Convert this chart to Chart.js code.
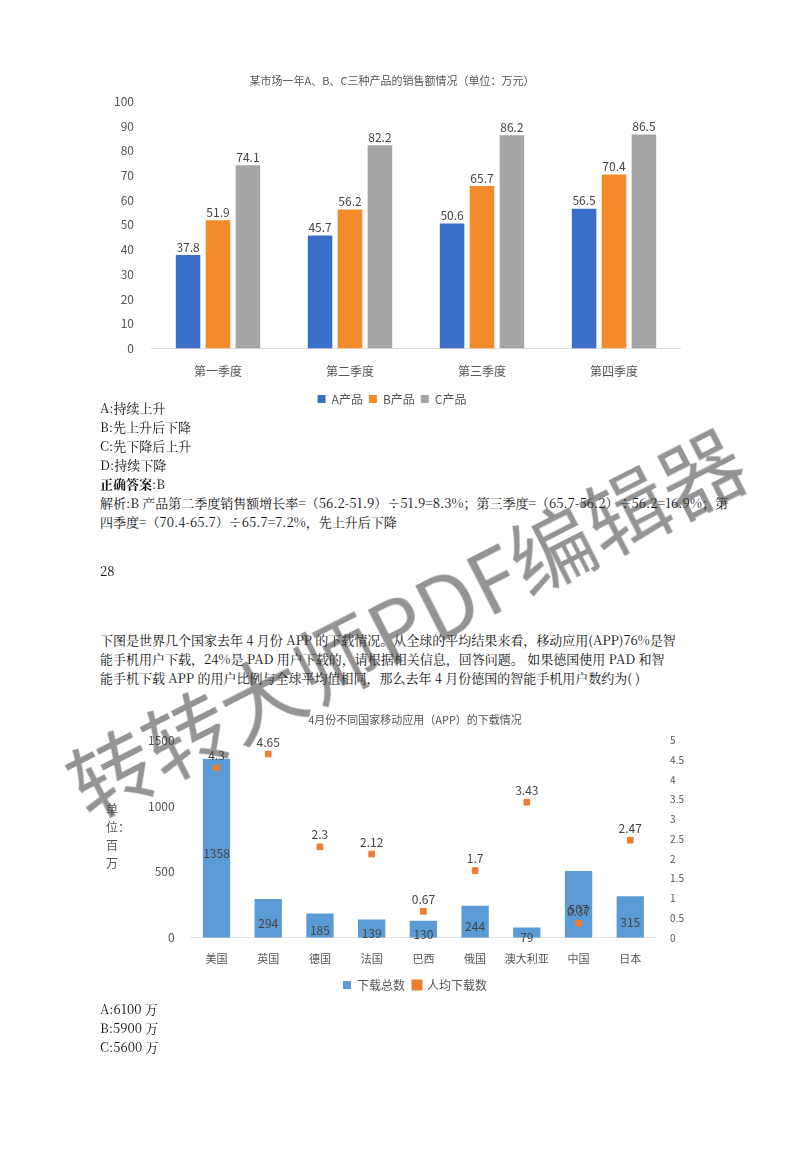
<!DOCTYPE html>
<html lang="zh">
<head>
<meta charset="UTF-8">
<title>图表</title>
<script src="https://cdn.jsdelivr.net/npm/chart.js"></script>
<style>
  body { margin: 0; width: 800px; height: 1159px; background: #fff; position: relative; overflow: hidden;
         font-family: "Noto Serif CJK SC", "Noto Sans CJK SC", serif; color: #111; }
  .t { position: absolute; left: 100px; font-size: 13px; line-height: 19px; margin: 0; white-space: nowrap; }
  .box { position: absolute; }
  .wm { position: absolute; left: 45px; top: 735px; font-size: 84px; color: rgba(60,60,60,0.55);
        transform: rotate(-27deg); transform-origin: left top; white-space: nowrap; pointer-events: none;
        font-family: "Noto Sans CJK SC", sans-serif; }
</style>
<script>
  const quarters = ["第一季度", "第二季度", "第三季度", "第四季度"];
  const productA = [37.8, 45.7, 50.6, 56.5];
  const productB = [51.9, 56.2, 65.7, 70.4];
  const productC = [74.1, 82.2, 86.2, 86.5];

  const countries = ["美国", "英国", "德国", "法国", "巴西", "俄国", "澳大利亚", "中国", "日本"];
  const totalDownloads = [1358, 294, 185, 139, 130, 244, 79, 507, 315];
  const perCapita = [4.3, 4.65, 2.3, 2.12, 0.67, 1.7, 3.43, 0.37, 2.47];

  const font = "'Noto Sans CJK SC', sans-serif";

  // draw value labels; mode per dataset: 'top' or 'center'
  const valueLabels = {
    id: 'valueLabels',
    afterDatasetsDraw(chart, args, opts) {
      const ctx = chart.ctx;
      ctx.save();
      ctx.font = opts.size + "px " + font;
      ctx.fillStyle = opts.color || '#444';
      ctx.textAlign = 'center';
      chart.data.datasets.forEach((ds, i) => {
        const meta = chart.getDatasetMeta(i);
        const mode = (opts.modes || [])[i] || 'top';
        meta.data.forEach((el, j) => {
          let y;
          if (mode === 'center') {
            y = (el.y + el.base) / 2 + 5;
          } else {
            y = el.y - (opts.offset || 8);
          }
          ctx.fillText(ds.data[j], el.x, y);
        });
      });
      ctx.restore();
    }
  };

  window.onload = function () {
    new Chart(document.getElementById('c1'), {
      type: 'bar',
      data: {
        labels: quarters,
        datasets: [
          { label: 'A产品', data: productA, backgroundColor: '#3a6fc9' },
          { label: 'B产品', data: productB, backgroundColor: '#f58a2b' },
          { label: 'C产品', data: productC, backgroundColor: '#a5a5a5' }
        ]
      },
      options: {
        responsive: false, animation: false,
        layout: { padding: { left: 4, right: 20, top: 0, bottom: 0 } },
        categoryPercentage: 0.68, barPercentage: 0.82,
        plugins: {
          title: { display: true, text: '某市场一年A、B、C三种产品的销售额情况（单位：万元）', color: '#555',
                   font: { family: font, size: 11, weight: 'normal' }, padding: { top: 4, bottom: 14 } },
          legend: { position: 'bottom', labels: { boxWidth: 8, boxHeight: 8, color: '#555', padding: 6,
                    font: { family: font, size: 12 } } },
          tooltip: { enabled: false },
          valueLabels: { size: 12, offset: 8, color: '#444' }
        },
        scales: {
          x: { grid: { display: false }, border: { color: '#ddd' },
               ticks: { color: '#555', font: { family: font, size: 12 }, padding: 8 } },
          y: { min: 0, max: 100, ticks: { stepSize: 10, color: '#555', font: { family: font, size: 12 }, padding: 10 },
               grid: { display: false }, border: { display: false } }
        }
      },
      plugins: [valueLabels]
    });

    new Chart(document.getElementById('c2'), {
      data: {
        labels: countries,
        datasets: [
          { type: 'bar', label: '下载总数', data: totalDownloads, backgroundColor: '#5b9bd5', yAxisID: 'y', order: 2 },
          { type: 'line', label: '人均下载数', data: perCapita, yAxisID: 'y1', showLine: false,
            pointStyle: 'rect', pointRadius: 4, backgroundColor: '#ed7d31', borderColor: '#ed7d31', order: 1 }
        ]
      },
      options: {
        responsive: false, animation: false,
        layout: { padding: { left: 40, right: 10, top: 0, bottom: 0 } },
        categoryPercentage: 0.8, barPercentage: 0.66,
        plugins: {
          title: { display: true, text: '4月份不同国家移动应用（APP）的下载情况', color: '#555',
                   font: { family: font, size: 11, weight: 'normal' }, padding: { top: 2, bottom: 14 } },
          legend: { position: 'bottom', labels: { boxWidth: 8, boxHeight: 8, color: '#555', padding: 8,
                    font: { family: font, size: 12 }, sort: (a, b) => a.datasetIndex - b.datasetIndex } },
          tooltip: { enabled: false },
          valueLabels: { size: 12, offset: 12, color: '#444', modes: ['center', 'top'] }
        },
        scales: {
          x: { grid: { display: false }, border: { color: '#e3e3e3' },
               ticks: { color: '#555', font: { family: font, size: 11 }, padding: 6 } },
          y: { position: 'left', min: 0, max: 1500,
               ticks: { stepSize: 500, color: '#555', font: { family: font, size: 12 }, padding: 8, callback: v => String(v) },
               grid: { display: false }, border: { display: false } },
          y1: { position: 'right', min: 0, max: 5,
                ticks: { stepSize: 0.5, color: '#555', font: { family: font, size: 10 }, padding: 6, callback: v => String(v) },
                grid: { display: false }, border: { display: false } }
        }
      },
      plugins: [valueLabels]
    });
  };
</script>
</head>
<body>
  <div class="box" style="left:100px; top:70px;"><canvas id="c1" width="600" height="345"></canvas></div>

  <p class="t" style="top:398px;">A:持续上升</p>
  <p class="t" style="top:417px;">B:先上升后下降</p>
  <p class="t" style="top:436px;">C:先下降后上升</p>
  <p class="t" style="top:455px;">D:持续下降</p>
  <p class="t" style="top:474px;"><b>正确答案</b>:B</p>
  <p class="t" style="top:493px;">解析:B 产品第二季度销售额增长率=（56.2-51.9）÷51.9=8.3%；第三季度=（65.7-56.2）÷56.2=16.9%；第<br>四季度=（70.4-65.7）÷65.7=7.2%，先上升后下降</p>

  <p class="t" style="top:561px;">28</p>

  <p class="t" style="top:630px;">下图是世界几个国家去年 4 月份 APP 的下载情况。从全球的平均结果来看，移动应用(APP)76%是智<br>能手机用户下载，24%是 PAD 用户下载的，请根据相关信息，回答问题。 如果德国使用 PAD 和智<br>能手机下载 APP 的用户比例与全球平均值相同，那么去年 4 月份德国的智能手机用户数约为(   )</p>

  <div class="box" style="left:100px; top:711px;"><canvas id="c2" width="600" height="290"></canvas></div>
  <div style="position:absolute; left:106px; top:800px; width:14px; font-size:12px; line-height:18px; color:#555; font-family:'Noto Sans CJK SC';">单位：百万</div>

  <p class="t" style="top:999px;">A:6100 万</p>
  <p class="t" style="top:1018px;">B:5900 万</p>
  <p class="t" style="top:1037px;">C:5600 万</p>

  <div class="wm">转转大师PDF编辑器</div>
</body>
</html>
